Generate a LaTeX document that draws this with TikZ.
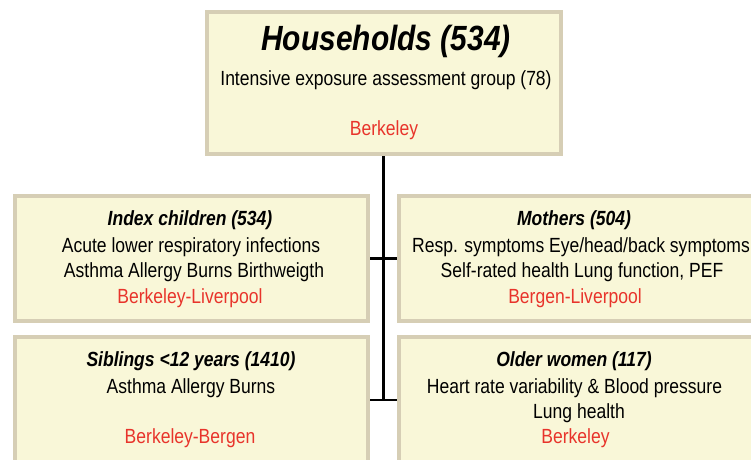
\documentclass[tikz,border=0pt]{standalone}
\usepackage{fontspec}
\setmainfont{Liberation Sans}[FakeStretch=0.855]
\definecolor{boxfill}{HTML}{F9F7D8}
\definecolor{boxborder}{HTML}{D6CEB5}
\definecolor{sitered}{HTML}{E8342B}
\tikzset{
  box/.style={rectangle, draw=boxborder, fill=boxfill, line width=4pt, outer sep=2pt, inner sep=0pt},
  body/.style={anchor=base, inner sep=0pt, font=\fontsize{20.5}{24}\selectfont},
  head/.style={body, font=\fontsize{20.5}{24}\selectfont\bfseries\itshape},
  title/.style={anchor=base, inner sep=0pt, font=\fontsize{35}{40}\selectfont\bfseries\itshape},
  site/.style={body, text=sitered},
  conn/.style={line width=2.8pt, black}
}
\begin{document}
\begin{tikzpicture}[x=1pt, y=-1pt]
\useasboundingbox (0,0) rectangle (751,459);
\clip (0,0) rectangle (751,459);
% boxes
\node[box, minimum width=354pt, minimum height=142pt] (top) at (384,83) {};
\node[box, minimum width=353pt, minimum height=125pt] (lm) at (191.5,258.5) {};
\node[box, minimum width=358pt, minimum height=125pt] (rm) at (578,258.5) {};
\node[box, minimum width=353pt, minimum height=143pt] (lb) at (191.5,408.5) {};
\node[box, minimum width=358pt, minimum height=143pt] (rb) at (578,408.5) {};
% connectors
\coordinate (bend) at (383.5,401);
\coordinate (jm) at (383.5,258.5);
\coordinate (jb) at (383.5,400);
\draw[conn] (top.south -| bend) -- (bend);
\draw[conn] (lm.east) -- (rm.west);
\draw[conn] (lb.east |- jb) -- (rb.west |- jb);
% top box text
\node[title] (t1) at (386,50) {Households (534)};
\node[body] (t2) at (386,85) {Intensive exposure assessment group (78)};
\node[site] (t3) at (384,135) {Berkeley};
% left middle
\node[head] (a1) at (190,225) {Index children (534)};
\node[body] (a2) at (191,252.5) {Acute lower respiratory infections};
\node[body] (a3) at (194,277.5) {Asthma Allergy Burns Birthweigth};
\node[site] (a4) at (190,303) {Berkeley-Liverpool};
% right middle
\node[head] (b1) at (574,225) {Mothers (504)};
\node[body] (b2) at (581,252.5) {Resp. symptoms Eye/head/back symptoms};
\node[body] (b3) at (582,277.5) {Self-rated health Lung function, PEF};
\node[site] (b4) at (575,303) {Bergen-Liverpool};
% left bottom
\node[head] (c1) at (191,366) {Siblings <12 years (1410)};
\node[body] (c2) at (191,393) {Asthma Allergy Burns};
\node[site] (c3) at (190,443) {Berkeley-Bergen};
% right bottom
\node[head] (d1) at (574,366) {Older women (117)};
\node[body] (d2) at (574.5,393) {Heart rate variability \& Blood pressure};
\node[body] (d3) at (579,418) {Lung health};
\node[site] (d4) at (575.5,443) {Berkeley};
\end{tikzpicture}
\end{document}
